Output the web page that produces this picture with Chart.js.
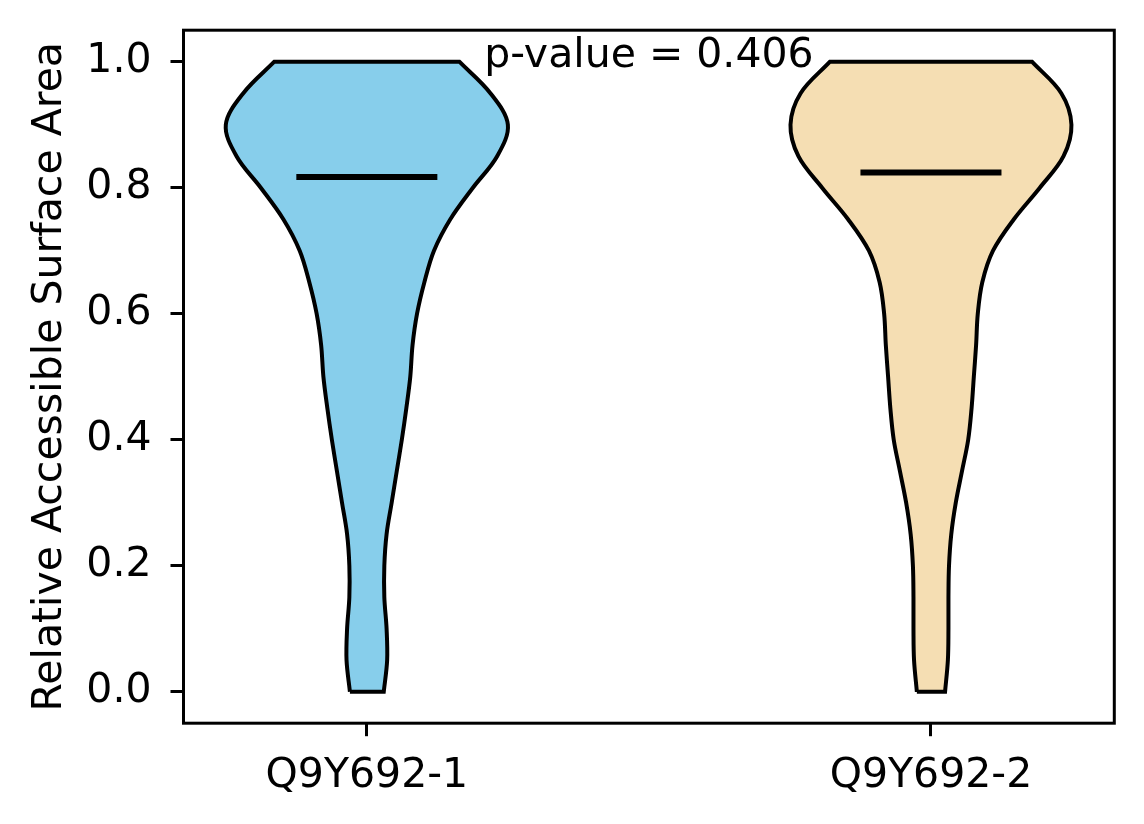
<!DOCTYPE html>
<html>
<head>
<meta charset="utf-8">
<script src="https://cdn.jsdelivr.net/npm/chart.js@4/dist/chart.umd.min.js"></script>
<style>
  html, body { margin: 0; padding: 0; background: #fff; }
  #wrap { width: 1144px; height: 824px; }
</style>
</head>
<body>
<div id="wrap"><canvas id="violin" width="1144" height="824"></canvas></div>
<script>
// categories and their positions on the x axis
const categories = ['Q9Y692-1', 'Q9Y692-2'];
const positions = [1, 2];

const densityY = [0, 0.05, 0.1, 0.15, 0.2, 0.25, 0.3, 0.35, 0.4, 0.45, 0.5,
                  0.55, 0.6, 0.65, 0.7, 0.75, 0.8, 0.85, 0.9, 0.95, 1.0];

// half width of each violin at those levels (x axis units)
const halfWidth1 = [0.030, 0.036, 0.035, 0.031, 0.031, 0.035, 0.044, 0.053, 0.062, 0.070, 0.077,
                    0.081, 0.089, 0.102, 0.119, 0.148, 0.188, 0.231, 0.250, 0.219, 0.164];
const halfWidth2 = [0.025, 0.030, 0.031, 0.031, 0.032, 0.036, 0.044, 0.055, 0.066, 0.072, 0.076,
                    0.080, 0.083, 0.091, 0.110, 0.147, 0.193, 0.235, 0.249, 0.231, 0.179];

const means = [0.817, 0.824];
const meanHalfWidth = 0.125;

const yTicks = [0, 0.2, 0.4, 0.6, 0.8, 1.0];
const pValueText = 'p-value = 0.406';
const pValueY = 0.992;

const fillColors = ['#87CEEB', '#F5DEB3'];
const FONT = 'DejaVu Sans';

// closed outline: up the left side, across the top, down the right side, back along the bottom
function violinOutline(pos, widths) {
    const left = densityY.map((y, i) => ({ x: pos - widths[i], y: y }));
    const right = densityY.map((y, i) => ({ x: pos + widths[i], y: y })).reverse();
    const lTop = left[left.length - 1];
    const rBot = right[right.length - 1];
    // corners are doubled so the curve keeps a sharp edge there
    return [...left, { ...lTop }, right[0], { ...right[0] }, ...right.slice(1), { ...rBot }, { ...left[0] }];
}

const datasets = [];
means.forEach((m, i) => {
    datasets.push({
        data: [{ x: positions[i] - meanHalfWidth, y: m }, { x: positions[i] + meanHalfWidth, y: m }],
        showLine: true, borderColor: '#000', borderWidth: 6, pointRadius: 0,
        tension: 0, fill: false, order: 0
    });
});
[halfWidth1, halfWidth2].forEach((w, i) => {
    datasets.push({
        data: violinOutline(positions[i], w),
        showLine: true, borderColor: '#000', borderWidth: 4, pointRadius: 0,
        backgroundColor: fillColors[i], fill: 'shape', tension: 0.35, order: 1
    });
});

const framePlugin = {
    id: 'frame',
    afterDraw(chart) {
        const { ctx, chartArea: a, scales } = chart;
        ctx.save();
        ctx.strokeStyle = '#000';
        ctx.lineWidth = 3;
        ctx.strokeRect(a.left, a.top, a.right - a.left, a.bottom - a.top);
        ctx.fillStyle = '#000';
        ctx.font = '41px "' + FONT + '"';
        ctx.textAlign = 'center';
        ctx.textBaseline = 'alphabetic';
        ctx.fillText(pValueText, scales.x.getPixelForValue(1.5), scales.y.getPixelForValue(pValueY));
        ctx.restore();
    }
};

new Chart(document.getElementById('violin'), {
    type: 'scatter',
    data: { datasets: datasets },
    options: {
        responsive: false,
        devicePixelRatio: 1,
        animation: false,
        layout: { padding: { left: 0, right: 29.7, top: 30.2, bottom: 0 } },
        plugins: { legend: { display: false }, tooltip: { enabled: false } },
        scales: {
            x: {
                type: 'linear', min: 0.675, max: 2.325,
                afterBuildTicks: s => { s.ticks = positions.map(v => ({ value: v })); },
                afterFit: s => { s.height = 824 - 723.2; s.paddingLeft = 0; s.paddingRight = 0; },
                ticks: {
                    callback: v => categories[positions.indexOf(v)],
                    font: { family: FONT, size: 41 }, color: '#000',
                    padding: 16, maxRotation: 0, autoSkip: false
                },
                grid: { drawOnChartArea: false, drawTicks: true, tickLength: 13, color: '#000', lineWidth: 3 },
                border: { display: false }
            },
            y: {
                type: 'linear', min: -0.05, max: 1.05,
                afterBuildTicks: s => { s.ticks = yTicks.map(v => ({ value: v })); },
                afterFit: s => { s.width = 183.5; s.paddingTop = 0; s.paddingBottom = 0; },
                ticks: {
                    callback: v => v.toFixed(1),
                    font: { family: FONT, size: 41 }, color: '#000', padding: 19
                },
                grid: { drawOnChartArea: false, drawTicks: true, tickLength: 13, color: '#000', lineWidth: 3 },
                border: { display: false },
                title: {
                    display: true, text: 'Relative Accessible Surface Area',
                    font: { family: FONT, size: 41 }, color: '#000',
                    padding: { top: 26, bottom: 0 }
                }
            }
        }
    },
    plugins: [framePlugin]
});
</script>
</body>
</html>
